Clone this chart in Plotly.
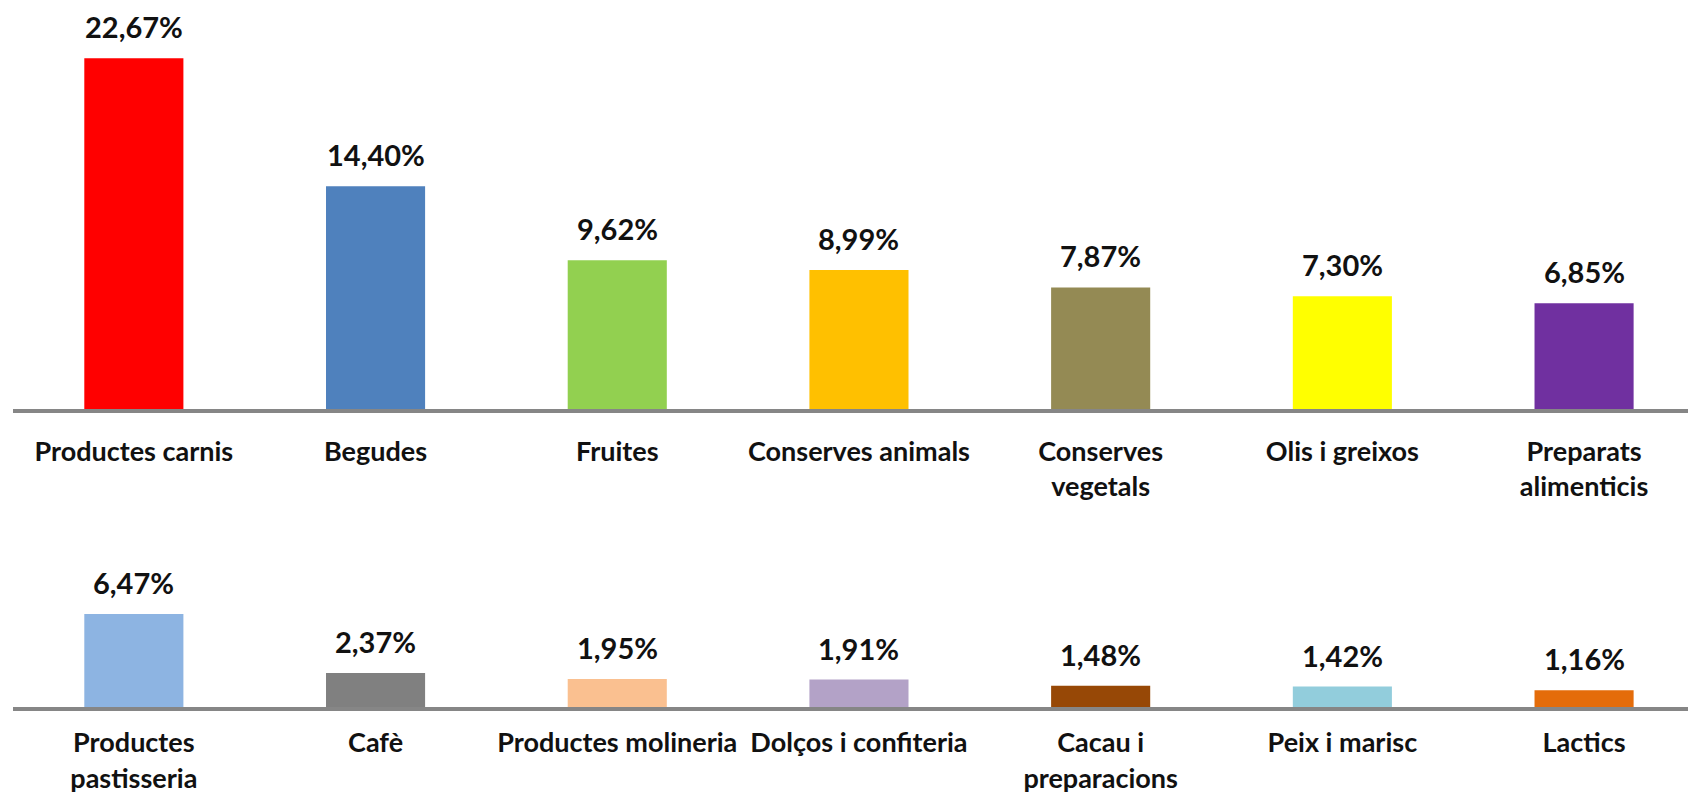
import plotly.graph_objects as go

top_cats = ["Productes carnis", "Begudes", "Fruites", "Conserves animals",
            "Conserves<br>vegetals", "Olis i greixos", "Preparats<br>alimenticis"]
top_vals = [22.67, 14.40, 9.62, 8.99, 7.87, 7.30, 6.85]
top_colors = ["#FF0000", "#4F81BD", "#92D050", "#FFC000", "#948A54", "#FFFF00", "#7030A0"]

bot_cats = ["Productes<br>pastisseria", "Cafè", "Productes molineria", "Dolços i confiteria",
            "Cacau i<br>preparacions", "Peix i marisc", "Lactics"]
bot_vals = [6.47, 2.37, 1.95, 1.91, 1.48, 1.42, 1.16]
bot_colors = ["#8DB4E2", "#808080", "#FAC090", "#B3A2C7", "#974806", "#92CDDC", "#E46C0A"]

FONT = "Lato"
W, H = 1688, 794


def fmt(v):
    return f"{v:.2f}".replace(".", ",") + "%"


fig = go.Figure()
fig.add_trace(go.Bar(x=top_cats, y=top_vals, marker=dict(color=top_colors, line=dict(width=0)),
                     xaxis="x", yaxis="y", hoverinfo="skip"))
fig.add_trace(go.Bar(x=bot_cats, y=bot_vals, marker=dict(color=bot_colors, line=dict(width=0)),
                     xaxis="x2", yaxis="y2", hoverinfo="skip"))

annotations = []
for cats, vals, xr, yr in [(top_cats, top_vals, "x", "y"), (bot_cats, bot_vals, "x2", "y2")]:
    for c, v in zip(cats, vals):
        annotations.append(dict(x=c, y=v, xref=xr, yref=yr, text=fmt(v), showarrow=False,
                                yanchor="bottom", yshift=12,
                                font=dict(family=FONT, size=29, color="#111111", weight="bold")))

x0 = 13 / W
top_axis_px = 415
bot_axis_px = 717
top_px_per_unit = 15.7
bot_px_per_unit = 14.6
top_range = 24
bot_range = 8

tick_font = dict(family=FONT, size=27, color="#111111", weight="bold")
axis_common = dict(showline=True, linecolor="#868686", linewidth=4, ticks="outside",
                   tickcolor="rgba(0,0,0,0)", tickfont=tick_font, range=[-0.5, 6.43],
                   showgrid=False, zeroline=False, fixedrange=True, tickangle=0)

fig.update_layout(
    width=W, height=H,
    margin=dict(l=0, r=0, t=0, b=0),
    paper_bgcolor="white", plot_bgcolor="white",
    showlegend=False,
    bargap=0.59,
    xaxis=dict(domain=[x0, 1], anchor="y", ticklen=15, **axis_common),
    yaxis=dict(domain=[1 - top_axis_px / H, 1 - (top_axis_px - top_range * top_px_per_unit) / H],
               range=[0, top_range], visible=False, fixedrange=True),
    xaxis2=dict(domain=[x0, 1], anchor="y2", ticklen=9, **axis_common),
    yaxis2=dict(domain=[1 - bot_axis_px / H, 1 - (bot_axis_px - bot_range * bot_px_per_unit) / H],
                range=[0, bot_range], visible=False, fixedrange=True),
    annotations=annotations,
)

fig.write_html("out.html", config={"displayModeBar": False})
